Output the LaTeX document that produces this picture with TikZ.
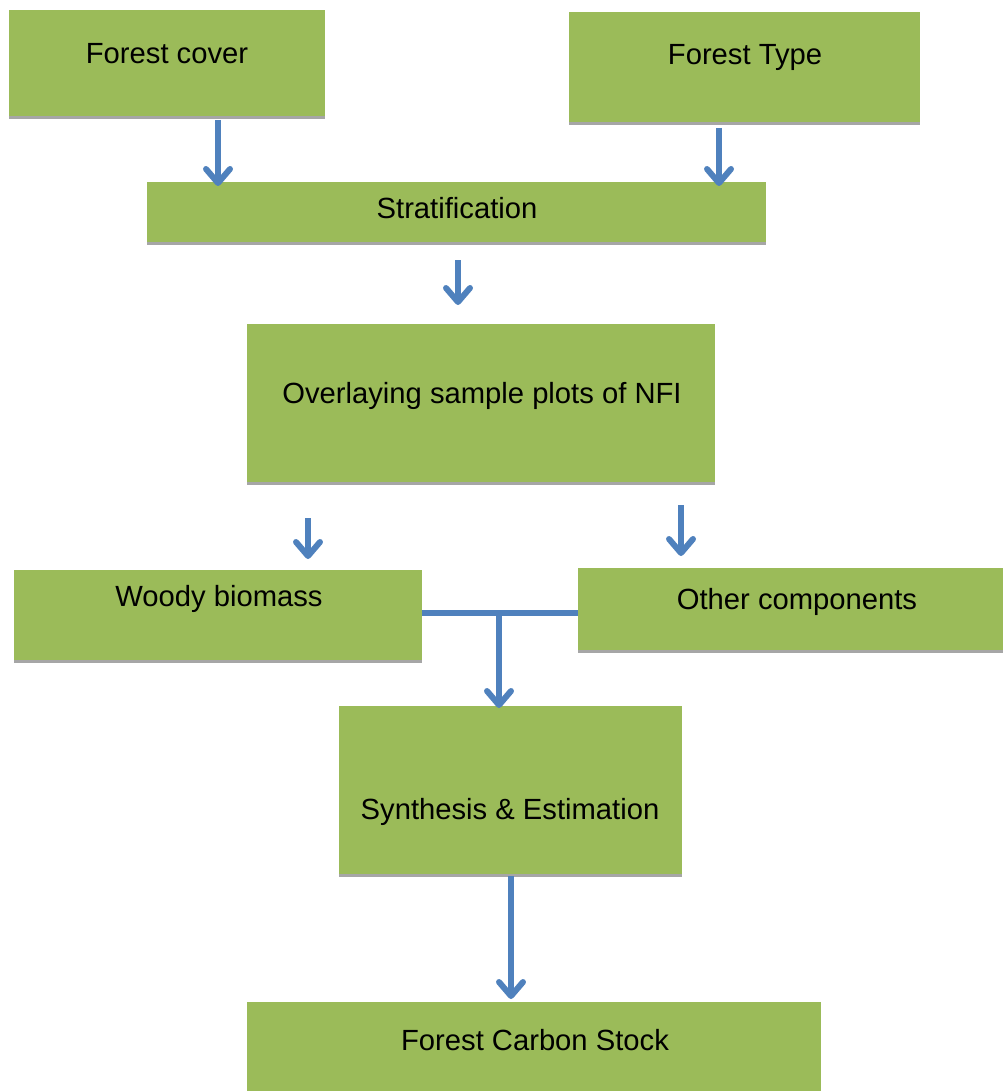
\documentclass[tikz,border=0pt]{standalone}
\usepackage{fontspec}
\setmainfont{Liberation Sans}
\definecolor{leaf}{RGB}{155, 187, 89}
\definecolor{flowblue}{RGB}{79, 129, 189}
\usepackage{tikz}
\usetikzlibrary{arrows.meta}
\usetikzlibrary{shadows}

\begin{document}
\begin{tikzpicture}[x=1pt, y=-1pt,
	box/.style={fill=leaf, draw=none, inner sep=0pt, outer sep=0pt,
		drop shadow={shadow xshift=0pt, shadow yshift=-3pt, fill=black!35, opacity=1}},
	lbl/.style={inner sep=0pt, anchor=base, font=\fontsize{29.2}{34}\selectfont},
	flow/.style={draw=flowblue, line width=6pt, -{Straight Barb[length=14pt, width=24pt, round]}},
	link/.style={draw=flowblue, line width=6pt}]
	\useasboundingbox (0,0) rectangle (1003,1091);
	
	\node[box, minimum width=316, minimum height=106] (cover) at (167,63) {};
	\node[lbl] (coverT) at (167,63.3) {Forest cover};
	\node[box, minimum width=351, minimum height=110] (type) at (744.5,67) {};
	\node[lbl] (typeT) at (745,65) {Forest Type};
	
	\node[box, minimum width=619, minimum height=60] (strat) at (456.5,212) {};
	\node[lbl] (stratT) at (457,218.3) {Stratification};
	
	\node[box, minimum width=468, minimum height=158] (over) at (481,403) {};
	\node[lbl] (overT) at (482,403.3) {Overlaying sample plots of NFI};
	
	\node[box, minimum width=408, minimum height=90] (woody) at (218,615) {};
	\node[lbl] (woodyT) at (219,606.7) {Woody biomass};
	\node[box, minimum width=425, minimum height=82] (other) at (790.5,609) {};
	\node[lbl] (otherT) at (797,609) {Other components};
	
	\node[box, minimum width=343, minimum height=168] (synth) at (510.5,790) {};
	\node[lbl] (synthT) at (510,819.3) {Synthesis \& Estimation};
	
	\node[box, minimum width=574, minimum height=92] (stock) at (534,1048) {};
	\node[lbl] (stockT) at (535,1050) {Forest Carbon Stock};
	
	\coordinate (c1) at (218,120);
	\coordinate (c2) at (719,128);
	\coordinate (c3) at (458,260);
	\coordinate (e3) at (458,305);
	\coordinate (c4) at (308,518);
	\coordinate (e4) at (308,559);
	\coordinate (c5) at (681,505);
	\coordinate (e5) at (681,556);
	\coordinate (j) at (499,613);
	\coordinate (c6) at (511,876);
	
	\draw[flow] (c1) -- ([yshift=-4pt]strat.north -| c1);
	\draw[flow] (c2) -- ([yshift=-4pt]strat.north -| c2);
	\draw[flow] (c3) -- (e3);
	\draw[flow] (c4) -- (e4);
	\draw[flow] (c5) -- (e5);
	\draw[link] (woody.east |- j) -- (other.west |- j);
	\draw[flow] (j) -- ([yshift=-2pt]synth.north -| j);
	\draw[flow] (c6) -- ([yshift=3pt]stock.north -| c6);
\end{tikzpicture}
\end{document}
